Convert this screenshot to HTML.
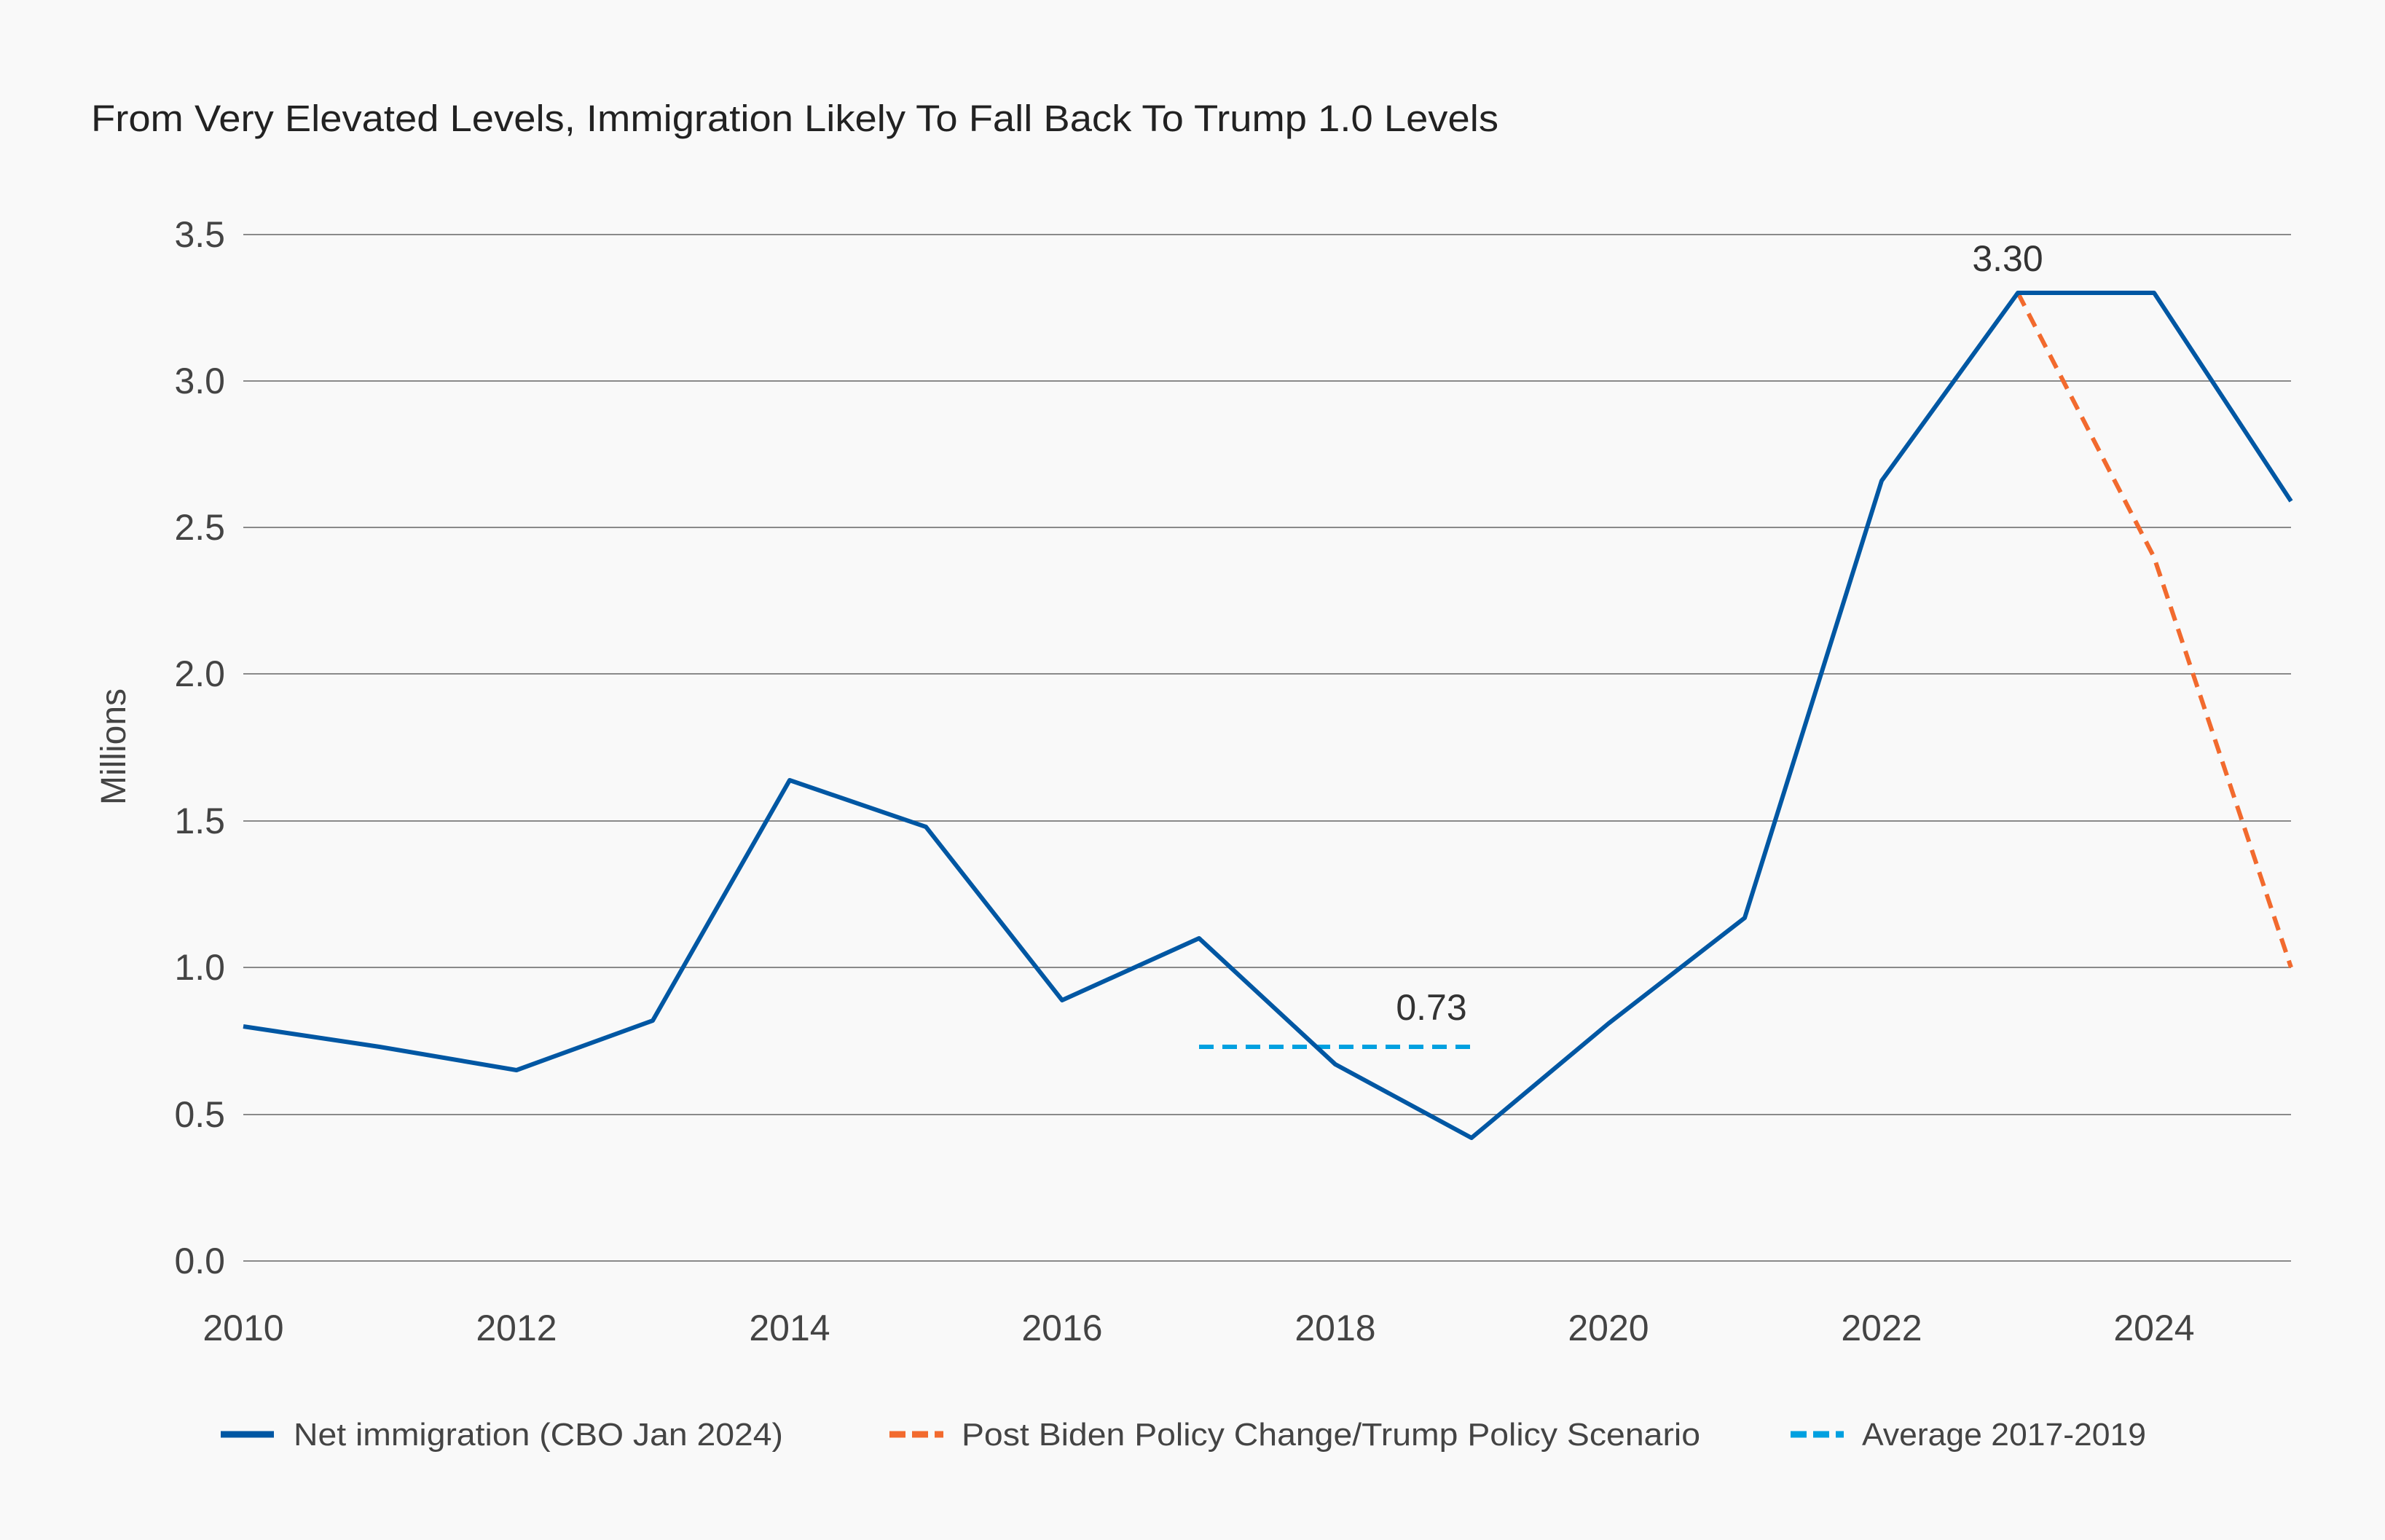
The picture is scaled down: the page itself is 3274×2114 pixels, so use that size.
<!DOCTYPE html>
<html><head><meta charset="utf-8"><style>
html,body{margin:0;padding:0;background:#f9f9f9;}
svg{display:block;font-family:"Liberation Sans",sans-serif;}
</style></head><body>
<svg width="3274" height="2114" viewBox="0 0 3274 2114" xmlns="http://www.w3.org/2000/svg">
<rect width="3274" height="2114" fill="#f9f9f9"/>
<text x="125" y="180" font-size="51" fill="#222" textLength="1932" lengthAdjust="spacingAndGlyphs">From Very Elevated Levels, Immigration Likely To Fall Back To Trump 1.0 Levels</text>
<g stroke="#8a8a8a" stroke-width="2">
<line x1="334" x2="3145" y1="1731" y2="1731"/>
<line x1="334" x2="3145" y1="1530" y2="1530"/>
<line x1="334" x2="3145" y1="1328" y2="1328"/>
<line x1="334" x2="3145" y1="1127" y2="1127"/>
<line x1="334" x2="3145" y1="925" y2="925"/>
<line x1="334" x2="3145" y1="724" y2="724"/>
<line x1="334" x2="3145" y1="523" y2="523"/>
<line x1="334" x2="3145" y1="322" y2="322"/>
</g>
<g font-size="50" fill="#444" text-anchor="end">
<text x="309" y="1748">0.0</text>
<text x="309" y="1547">0.5</text>
<text x="309" y="1345">1.0</text>
<text x="309" y="1144">1.5</text>
<text x="309" y="942">2.0</text>
<text x="309" y="741">2.5</text>
<text x="309" y="540">3.0</text>
<text x="309" y="339">3.5</text>
</g>
<text transform="translate(172,1025) rotate(-90)" font-size="48" fill="#444" text-anchor="middle">Millions</text>
<g font-size="50" fill="#444" text-anchor="middle">
<text x="334" y="1840">2010</text>
<text x="709" y="1840">2012</text>
<text x="1084" y="1840">2014</text>
<text x="1458" y="1840">2016</text>
<text x="1833" y="1840">2018</text>
<text x="2208" y="1840">2020</text>
<text x="2583" y="1840">2022</text>
<text x="2957" y="1840">2024</text>
</g>
<polyline fill="none" stroke="#00a0e0" stroke-width="6" stroke-dasharray="20,12" points="1646,1437 2020,1437"/>
<polyline fill="none" stroke="#f26a2e" stroke-width="6" stroke-dasharray="20,12" points="2770,402 2957,765 3145,1328"/>
<polyline fill="none" stroke="#0057a3" stroke-width="6" stroke-linejoin="round" points="334,1409 521,1437 709,1469 896,1401 1084,1071 1271,1135 1458,1373 1646,1288 1833,1461 2020,1562 2208,1405 2395,1260 2583,660 2770,402 2957,402 3145,688"/>
<text x="2756" y="372" font-size="50" fill="#333" text-anchor="middle">3.30</text>
<text x="1965" y="1400" font-size="50" fill="#333" text-anchor="middle">0.73</text>
<line x1="303" x2="376" y1="1969" y2="1969" stroke="#0057a3" stroke-width="9"/>
<text x="403" y="1984" font-size="44" fill="#444" textLength="672" lengthAdjust="spacingAndGlyphs">Net immigration (CBO Jan 2024)</text>
<line x1="1221" x2="1295" y1="1969" y2="1969" stroke="#f26a2e" stroke-width="9" stroke-dasharray="22,9"/>
<text x="1320" y="1984" font-size="44" fill="#444" textLength="1014" lengthAdjust="spacingAndGlyphs">Post Biden Policy Change/Trump Policy Scenario</text>
<line x1="2458" x2="2531" y1="1969" y2="1969" stroke="#00a0e0" stroke-width="9" stroke-dasharray="22,9"/>
<text x="2556" y="1984" font-size="44" fill="#444" textLength="390" lengthAdjust="spacingAndGlyphs">Average 2017-2019</text>
</svg>
</body></html>
